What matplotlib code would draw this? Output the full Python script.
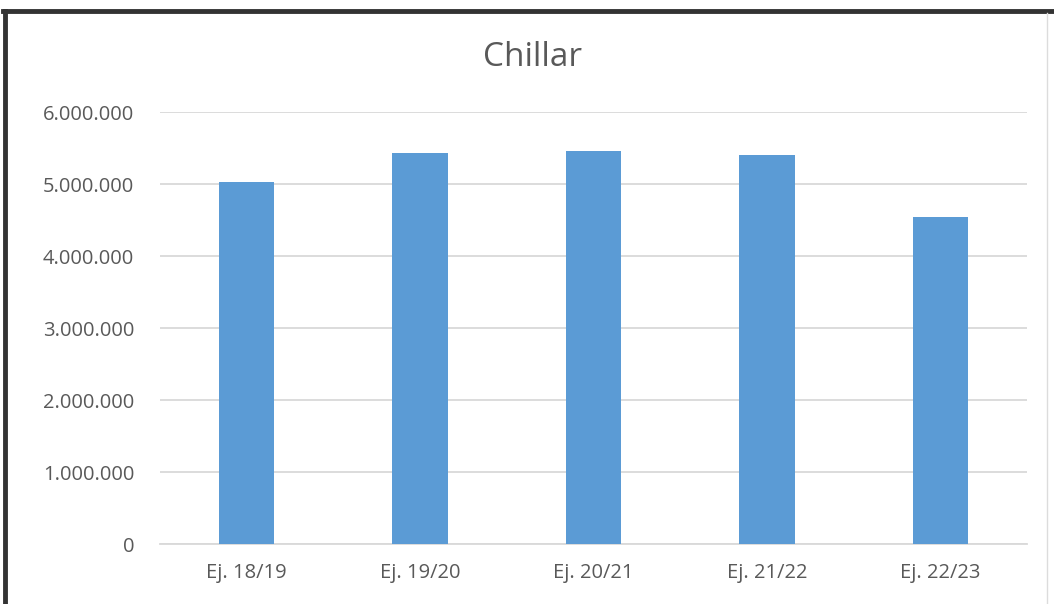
from matplotlib import pyplot as plt
from matplotlib.lines import Line2D
from matplotlib.ticker import FuncFormatter
import numpy as np

categories = ['Ej. 18/19', 'Ej. 19/20', 'Ej. 20/21', 'Ej. 21/22', 'Ej. 22/23']
values = [5030000, 5430000, 5460000, 5400000, 4540000]
y_ticks = [0, 1000000, 2000000, 3000000, 4000000, 5000000, 6000000]

plt.rcParams['font.family'] = ['Open Sans', 'DejaVu Sans']
text_color = '#595959'


def thousands(v, pos):
    return f'{int(v):,}'.replace(',', '.')


fig = plt.figure(figsize=(10.54, 6.04), dpi=100)
ax = fig.add_axes([160 / 1054, 1 - 544 / 604, 867 / 1054, 432 / 604])

x = np.arange(len(categories))
ax.bar(x, values, width=0.32, color='#5b9bd5', zorder=3)

ax.set_xlim(-0.5, len(categories) - 0.5)
ax.set_ylim(0, 6000000)
ax.set_yticks(y_ticks)
ax.yaxis.set_major_formatter(FuncFormatter(thousands))
ax.set_xticks(x)
ax.set_xticklabels(categories)

ax.grid(axis='y', color='#d9d9d9', linewidth=1.3, zorder=0)
for side in ['top', 'right', 'left']:
    ax.spines[side].set_visible(False)
ax.spines['bottom'].set_color('#d9d9d9')
ax.spines['bottom'].set_linewidth(1.3)
ax.tick_params(axis='both', length=0, labelsize=14.5, colors=text_color)
ax.tick_params(axis='y', pad=18.5)
ax.tick_params(axis='x', pad=14)

fig.text(533 / 1054, 1 - 58 / 604, 'Chillar', ha='center', va='center',
         fontsize=24, color=text_color)

# outer frame of the screenshot
fig.add_artist(Line2D([4.5 / 1054, 4.5 / 1054], [0, 1 - 11 / 604],
                      color='#333333', linewidth=3.5))
fig.add_artist(Line2D([3 / 1054, 1], [1 - 11 / 604, 1 - 11 / 604],
                      color='#333333', linewidth=3.5))
fig.add_artist(Line2D([1047 / 1054, 1047 / 1054], [0, 1 - 13 / 604],
                      color='#dcdcdc', linewidth=1))

fig.savefig('out.png', dpi=100)
